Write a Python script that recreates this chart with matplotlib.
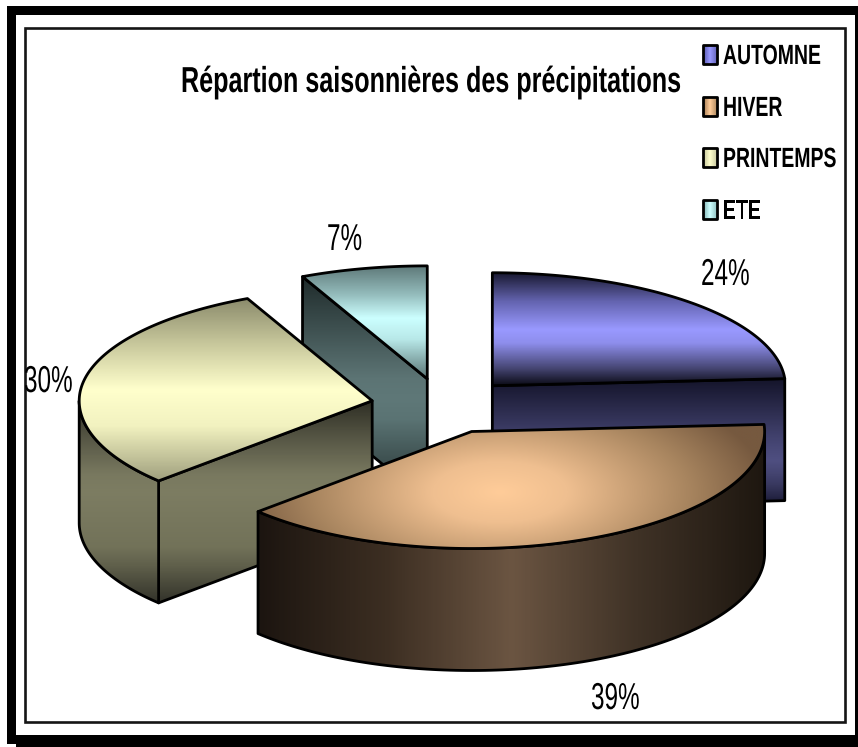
import numpy as np
import matplotlib

matplotlib.use("Agg")
import matplotlib.pyplot as plt
import matplotlib.patheffects as pe
from matplotlib.colors import LinearSegmentedColormap
from matplotlib.patches import Polygon, Rectangle
from matplotlib.transforms import Affine2D

title = "Répartion saisonnières des précipitations"
categories = ["AUTOMNE", "HIVER", "PRINTEMPS", "ETE"]
values = [24, 39, 30, 7]
value_labels = ["24%", "39%", "30%", "7%"]

# pie geometry in pixels, front half of the ellipse a bit larger (perspective)
cx, cy = 443, 406
rx, ry_back, ry_front = 293, 113, 117
depth = 122
explode = 0.246

label_xy = [(701, 285), (591, 709), (24, 392), (327, 250)]
legend_y = [45, 97, 148, 200]
swatch_stops = [["#5555aa", "#9999ff", "#6666bb"], ["#a07850", "#ffcc99", "#b08a60"],
                ["#c0c098", "#ffffcc", "#c8c8a0"], ["#80b0b0", "#ccffff", "#90c0c0"]]

line_w = 2.0
fig_h = 747


class Tall(pe.AbstractPathEffect):
    """Stretches text upwards from its baseline, no narrow font is installed."""

    def __init__(self, base, sy):
        super().__init__()
        self.base, self.sy = base, sy

    def draw_path(self, renderer, gc, tpath, affine, rgbFace=None):
        tall = Affine2D().translate(0, -self.base).scale(1, self.sy).translate(0, self.base)
        renderer.draw_path(gc, tpath, affine + tall, rgbFace)


def tall_text(ax, left, y, s, size, sy, **kw):
    t = ax.text(left, y, s, ha="left", va="baseline", color="black", zorder=70,
                family="Liberation Sans", fontsize=size, **kw)
    t.set_path_effects([Tall(fig_h - y, sy)])
    return t


def stops_cmap(stops):
    return LinearSegmentedColormap.from_list("g", stops, N=256)


def fill_gradient(ax, pts, stops, z, mode="y", peak=None):
    """Polygon filled with a gradient through an image clipped to it."""
    pts = np.array(pts)
    x0, y0 = pts.min(axis=0)
    x1, y1 = pts.max(axis=0)
    X, Y = np.meshgrid(np.linspace(x0, x1, 300), np.linspace(y0, y1, 300))
    if mode == "y":
        t = (Y - y0) / (y1 - y0)
    elif mode == "x":
        t = (X - x0) / (x1 - x0)
    else:
        # elliptical highlight around the peak
        t = np.hypot((X - peak[0]) / peak[2], (Y - peak[1]) / peak[3])
        t = np.clip(t, 0, 1)
    im = ax.imshow(t, extent=(x0, x1, y1, y0), cmap=stops_cmap(stops), vmin=0, vmax=1,
                   aspect="auto", interpolation="bilinear", zorder=z)
    clip = Polygon(pts, closed=True, transform=ax.transData, fill=False, edgecolor="none")
    ax.add_patch(clip)
    im.set_clip_path(clip)
    ax.add_patch(Polygon(pts, closed=True, fill=False, edgecolor="black", lw=line_w,
                         joinstyle="round", zorder=z + 0.5))


def arc(ax_, ay_, t0, t1, n=120):
    t = np.radians(np.linspace(t0, t1, n))
    c = np.cos(t)
    return np.column_stack([ax_ + rx * np.sin(t), ay_ - np.where(c > 0, ry_back, ry_front) * c])


fig = plt.figure(figsize=(8.58, 7.47), dpi=100)
ax = fig.add_axes([0, 0, 1, 1])
ax.set_xlim(0, 858)
ax.set_ylim(747, 0)

# frame
for x, y, w, h in [(7, 6, 851, 9), (7, 6, 9, 738), (16, 735, 842, 12), (855, 6, 3, 741)]:
    ax.add_patch(Rectangle((x, y), w, h, color="black", lw=0, zorder=1))
ax.add_patch(Rectangle((24.5, 27.5), 820.5, 694.5, fill=False, edgecolor="#151515", lw=1.9, zorder=1))

# slices
angles = np.cumsum([0] + values) * 3.6
centers = []
for i in range(len(values)):
    mid = np.radians((angles[i] + angles[i + 1]) / 2)
    centers.append((cx + explode * rx * np.sin(mid), cy - explode * ry_back * np.cos(mid)))

top_stops = [
    [(0, "#1a1a33"), (0.25, "#6464b0"), (0.5, "#9999ff"), (0.62, "#8e8eec"), (0.85, "#444470"), (1, "#0a0a14")],
    [(0, "#ffcc99"), (0.25, "#efbf90"), (0.7, "#a8855f"), (1, "#76593f")],
    [(0, "#8b8b6c"), (0.25, "#c8c89c"), (0.5, "#ffffcc"), (0.7, "#f2f2c0"), (1, "#a0a07e")],
    [(0, "#5f7a7a"), (0.25, "#94bcbc"), (0.46, "#ccffff"), (0.65, "#b8e8e8"), (0.88, "#7a9c9c"), (1, "#5c7878")],
]
wall_stops = [
    [(0, "#14142a"), (0.5, "#464674"), (0.65, "#505082"), (0.85, "#35355a"), (1, "#12122a")],
    [(0, "#1c1510"), (0.25, "#3c2e22"), (0.5, "#6b5542"), (0.75, "#3f3226"), (1, "#1e1710")],
    [(0, "#2e2e24"), (0.2, "#5a5a48"), (0.4, "#7f7f64"), (0.75, "#717158"), (1, "#33332a")],
    [(0, "#1f2b2b"), (0.45, "#5c7474"), (0.6, "#607a7a"), (1, "#233030")],
]
shift = np.array([0, depth])

for z, i in zip([10, 20, 30, 40], [0, 3, 2, 1]):
    t0, t1 = angles[i], angles[i + 1]
    ax_, ay_ = centers[i]
    apex = np.array([[ax_, ay_]])
    wall_pts = []
    # radial walls turned towards the viewer
    if 180 < t0 < 360:
        p = arc(ax_, ay_, t0, t0, 1)
        wall_pts.append(np.vstack([apex, p, p + shift, apex + shift]))
    if 0 < t1 < 180:
        p = arc(ax_, ay_, t1, t1, 1)
        wall_pts.append(np.vstack([apex, p, p + shift, apex + shift]))
    # outer wall, front half of the ellipse only
    a0, a1 = max(t0, 90), min(t1, 270)
    if a1 > a0:
        p = arc(ax_, ay_, a0, a1)
        wall_pts.append(np.vstack([p, (p + shift)[::-1]]))
    y_min = min(w[:, 1].min() for w in wall_pts)
    y_max = max(w[:, 1].max() for w in wall_pts)
    for k, w in enumerate(wall_pts):
        if i == 1:
            fill_gradient(ax, w, wall_stops[i], z + k, mode="x")
        else:
            # same vertical gradient across all the walls of the slice
            f0 = (w[:, 1].min() - y_min) / (y_max - y_min)
            f1 = (w[:, 1].max() - y_min) / (y_max - y_min)
            c = stops_cmap(wall_stops[i])
            part = [(s, c(f0 + s * (f1 - f0))) for s in np.linspace(0, 1, 12)]
            fill_gradient(ax, w, part, z + k, mode="y")
    top = np.vstack([apex, arc(ax_, ay_, t0, t1)])
    if i == 1:
        fill_gradient(ax, top, top_stops[i], z + 5, mode="r", peak=(500, 492, 270, 120))
    else:
        fill_gradient(ax, top, top_stops[i], z + 5, mode="y")

# texts
tall_text(ax, 181, 92, title, 18.1, 1.435, fontweight="bold")

for i, name in enumerate(categories):
    y = legend_y[i]
    pts = [(703, y), (717, y), (717, y + 19), (703, y + 19)]
    fill_gradient(ax, pts, swatch_stops[i], 60, mode="x")
    tall_text(ax, 723, y + 19, name, 14, 1.43, fontweight="bold")

for (x, y), lab in zip(label_xy, value_labels):
    tall_text(ax, x, y, lab, 17.5, 1.54)

ax.axis("off")
fig.savefig("out.png", dpi=100)
